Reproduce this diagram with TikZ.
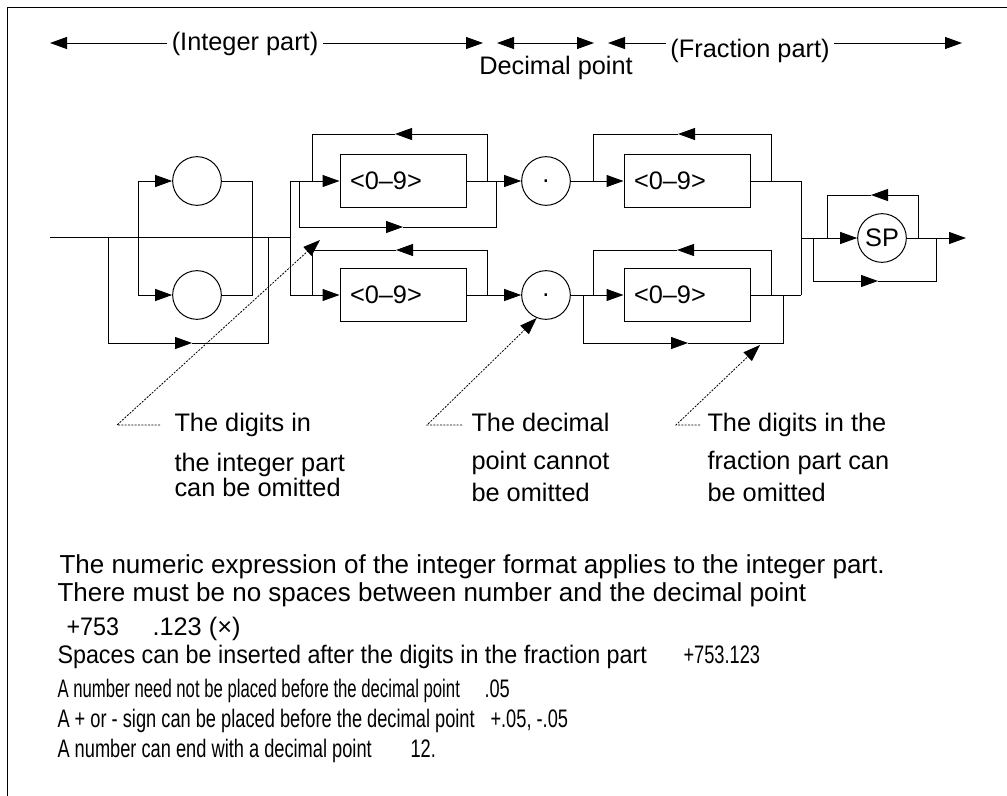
\documentclass[tikz,border=0pt]{standalone}
\usepackage{fontspec}
\setmainfont{Liberation Sans}
\newfontfamily\narrowfont[FakeStretch=0.72]{Liberation Sans}
\newfontfamily\narrowerfont[FakeStretch=0.66]{Liberation Sans}
\newfontfamily\semifont[FakeStretch=0.92]{Liberation Sans}
\usetikzlibrary{arrows.meta}

\begin{document}
\begin{tikzpicture}[x=0.75pt,y=-0.75pt,line width=0.75pt,
  >={Triangle[length=12.75pt,width=9pt]},
  every node/.append style={font=\fontsize{19}{21}\selectfont},
  num/.style={draw,circle,minimum size=36.5pt,inner sep=0pt},
  digits/.style={draw,minimum height=39.75pt,text width=79.5pt,inner xsep=7.5pt,align=left},
  note/.style={anchor=north west,inner sep=0pt,align=left},
  txt/.style={anchor=base west,inner sep=0pt},
  wide/.style={font=\fontsize{19.5}{21}\selectfont},
  semi/.style={font=\semifont\fontsize{19}{21}\selectfont},
  narrow/.style={font=\narrowfont\fontsize{19}{21}\selectfont},
  narrower/.style={font=\narrowerfont\fontsize{19}{21}\selectfont},
  leader/.style={->,dash pattern=on 1.5pt off 1pt,line width=0.6pt}]
\useasboundingbox (0,0) rectangle (1007,796);
%frame
\draw (7,796) -- (7,7) -- (1007,7);

%top labels
\node (intlbl) at (245,44) {(Integer part)};
\coordinate (intL) at (50,43);
\coordinate (intR) at (483,43);
\draw[->] (intlbl.west |- intL) -- (intL);
\draw[->] (intlbl.east |- intR) -- (intR);
\coordinate (dpL) at (497,43);
\coordinate (dpR) at (594,43);
\draw[<->] (dpL) -- (dpR);
\node (dplbl) at (556,68) {Decimal point};
\node (frlbl) at (750,51) {(Fraction part)};
\coordinate (frL) at (608,43);
\coordinate (frR) at (962,43);
\draw[->] (frlbl.west |- frL) -- (frL);
\draw[->] (frlbl.east |- frR) -- (frR);

%sign
\coordinate (in) at (50,237);
\coordinate (sa) at (138,237);
\coordinate (sb) at (108,237);
\coordinate (ma) at (252,237);
\coordinate (mb) at (268,237);
\coordinate (mc) at (290,237);
\node[num] (s1) at (197,181) {};
\node[num] (s2) at (197,295) {};
\draw (in) -- (mc);
\draw[->] (sa) |- (s1);
\draw[->] (sa) |- (s2);
\draw (s1) -| (ma);
\draw (s2) -| (ma);
\coordinate (by) at (192,343);
\draw[->] (sb) |- (by);
\draw (by) -| (mb);

%integer digits
\node[digits] (u1) at (403,181) {<0--9>};
\node[digits] (u2) at (403,295) {<0--9>};
\coordinate (va) at (290,181);
\coordinate (vb) at (290,295);
\draw (va) -- (vb);
\draw[->] (va) -- (u1);
\draw[->] (vb) -- (u2);
\coordinate (l1r) at (487,181);
\coordinate (l1) at (395,134);
\coordinate (l1l) at (312,181);
\draw[->] (l1r) |- (l1);
\draw (l1) -| (l1l);
\coordinate (b1l) at (299,181);
\coordinate (b1) at (403,227);
\coordinate (b1r) at (496,181);
\draw[->] (b1l) |- (b1);
\draw (b1) -| (b1r);
\coordinate (l2r) at (487,295);
\coordinate (l2) at (396,250);
\coordinate (l2l) at (312,295);
\draw[->] (l2r) |- (l2);
\draw (l2) -| (l2l);

%decimal point
\node[num] (d1) at (546,181) {.};
\node[num] (d2) at (546,295) {.};
\draw[->] (u1) -- (d1);
\draw[->] (u2) -- (d2);

%fraction digits
\node[digits] (f1) at (687,181) {<0--9>};
\node[digits] (f2) at (687,295) {<0--9>};
\draw[->] (d1) -- (f1);
\draw[->] (d2) -- (f2);
\coordinate (k1r) at (771,181);
\coordinate (k1) at (678,134);
\coordinate (k1l) at (593,181);
\draw[->] (k1r) |- (k1);
\draw (k1) -| (k1l);
\coordinate (k2r) at (771,295);
\coordinate (k2) at (677,250);
\coordinate (k2l) at (593,295);
\draw[->] (k2r) |- (k2);
\draw (k2) -| (k2l);
\coordinate (c2l) at (583,295);
\coordinate (c2) at (688,343);
\coordinate (c2r) at (783,295);
\draw[->] (c2l) |- (c2);
\draw (c2) -| (c2r);
\coordinate (ja) at (801,181);
\coordinate (jb) at (801,295);
\coordinate (jc) at (801,238);
\draw (f1) -- (ja) -- (jb);
\draw (f2) -- (jb);

%spaces
\node[num] (sp) at (882,238) {SP};
\coordinate (out) at (966,238);
\draw[->] (jc) -- (sp);
\draw[->] (sp) -- (out);
\coordinate (pa) at (813,238);
\coordinate (pb) at (827,238);
\coordinate (pc) at (918,238);
\coordinate (pd) at (936,238);
\coordinate (sl) at (871,195);
\draw[->] (pc) |- (sl);
\draw (sl) -| (pb);
\coordinate (sr) at (878,281);
\draw[->] (pa) |- (sr);
\draw (sr) -| (pd);

%notes
\coordinate (n1) at (117,425);
\coordinate (n1e) at (160,425);
\coordinate (t1) at (320,240);
\draw[leader] (n1e) -- (n1) -- (t1);
\coordinate (n2) at (427,425);
\coordinate (n2e) at (462,425);
\draw[leader] (n2e) -- (n2) -- (d2.248);
\coordinate (n3) at (676,425);
\coordinate (n3e) at (700,425);
\coordinate (t3) at (760,345);
\draw[leader] (n3e) -- (n3) -- (t3);
\node[note] (a1) at (174,413) {The digits in\\[9pt] the integer part\\[-2.5pt] can be omitted};
\node[note] (a2) at (471,413) {The decimal\\[7pt] point cannot\\[3pt] be omitted};
\node[note] (a3) at (707,413) {The digits in the\\[7pt] fraction part can\\[3pt] be omitted};

%text
\node[txt,wide] at (59,573) {The numeric expression of the integer format applies to the integer part.};
\node[txt,wide] at (57,601) {There must be no spaces between number and the decimal point};
\node[txt,semi] at (66,635) {+753};
\node[txt] at (152,635) {.123 (×)};
\node[txt,semi] at (57,663) {Spaces can be inserted after the digits in the fraction part};
\node[txt,narrow] at (683,663) {+753.123};
\node[txt,narrower] at (57,697) {A number need not be placed before the decimal point};
\node[txt,narrow] at (484,697) {.05};
\node[txt,narrow] at (57,727) {A + or - sign can be placed before the decimal point};
\node[txt,narrow] at (490,727) {+.05, -.05};
\node[txt,narrow] at (57,757) {A number can end with a decimal point};
\node[txt,narrow] at (410,757) {12.};
\end{tikzpicture}
\end{document}
